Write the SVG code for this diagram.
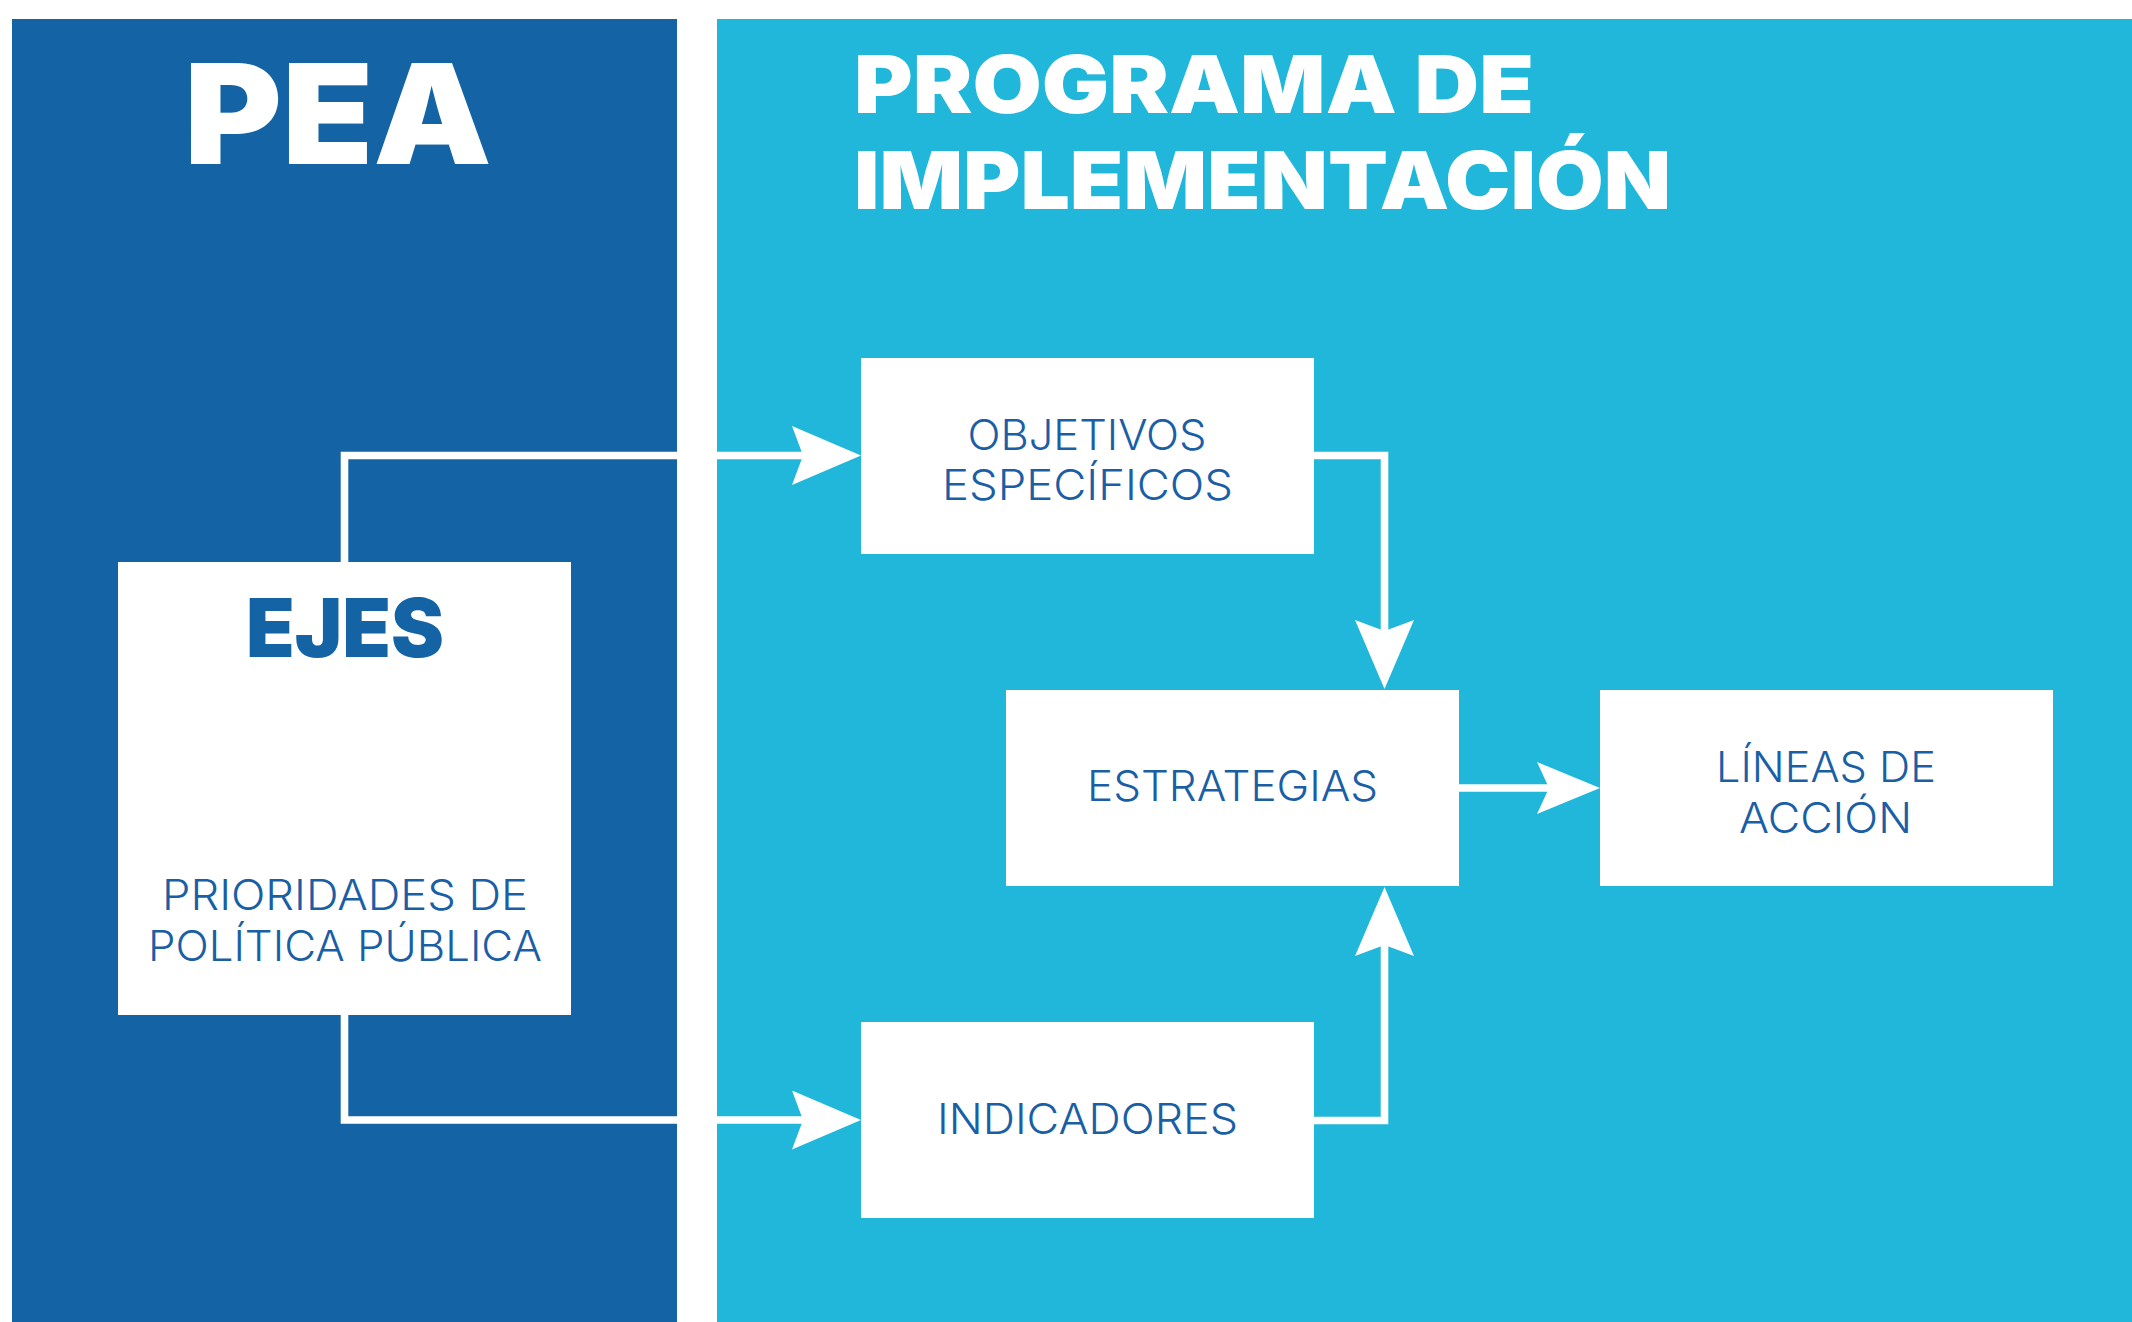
<svg xmlns="http://www.w3.org/2000/svg" width="2132" height="1322" viewBox="0 0 2132 1322">
  <style>
    .title { font-family: Inter, Roboto, "DejaVu Sans", sans-serif; font-weight: 900; fill: #ffffff; }
    .ejes { font-family: Inter, Roboto, "DejaVu Sans", sans-serif; font-weight: 900; fill: #1464A5; }
    .body { font-family: Inter, "Open Sans", "DejaVu Sans", sans-serif; font-weight: 300; font-size: 42px; fill: #1A5FA5; text-anchor: middle; }
    .node { fill: #ffffff; }
    .conn { fill: none; stroke: #ffffff; stroke-width: 7.6; stroke-linejoin: miter; stroke-linecap: butt; }
    .head { fill: #ffffff; }
  </style>
  <defs>
    <marker id="arrow" markerUnits="userSpaceOnUse" markerWidth="70" markerHeight="60" viewBox="0 0 70 60" refX="11" refY="29.5" orient="auto">
      <path class="head" d="M69,29.5 L0,0 L11,29.5 L0,59 Z"/>
    </marker>
    <marker id="arrowSmall" markerUnits="userSpaceOnUse" markerWidth="64" markerHeight="53" viewBox="0 0 64 53" refX="12" refY="26" orient="auto">
      <path class="head" d="M63,26 L0,0 L12,26 L0,52 Z"/>
    </marker>
  </defs>

  <rect width="2132" height="1322" fill="#ffffff"/>
  <g id="panel-pea">
    <rect x="12" y="19" width="665" height="1303" fill="#1464A5"/>
    <text class="title" x="184" y="164" font-size="139" textLength="308" lengthAdjust="spacingAndGlyphs">PEA</text>
  </g>
  <g id="panel-programa">
    <rect x="717" y="19" width="1415" height="1303" fill="#20B7DA"/>
    <text class="title" x="854" y="112.5" font-size="80" textLength="680" lengthAdjust="spacingAndGlyphs">PROGRAMA DE</text>
    <text class="title" x="854" y="209" font-size="80" textLength="817" lengthAdjust="spacingAndGlyphs">IMPLEMENTACIÓN</text>
  </g>

  <g id="connectors">
    <path class="conn" d="M344.5,562 L344.5,455.5 L803,455.5" marker-end="url(#arrow)"/>
    <path class="conn" d="M344.5,1015 L344.5,1120 L803,1120" marker-end="url(#arrow)"/>
    <path class="conn" d="M1314,455.5 L1384.5,455.5 L1384.5,631" marker-end="url(#arrow)"/>
    <path class="conn" d="M1314,1120.5 L1384.5,1120.5 L1384.5,945" marker-end="url(#arrow)"/>
    <path class="conn" d="M1459,788 L1549,788" marker-end="url(#arrowSmall)"/>
  </g>

  <g id="node-ejes">
    <rect class="node" x="118" y="562" width="453" height="453"/>
    <text class="ejes" x="246" y="657" font-size="81" textLength="198" lengthAdjust="spacingAndGlyphs">EJES</text>
    <text class="body" x="345" y="910" textLength="366" lengthAdjust="spacingAndGlyphs">PRIORIDADES DE</text>
    <text class="body" x="345" y="961" textLength="394" lengthAdjust="spacingAndGlyphs">POLÍTICA PÚBLICA</text>
  </g>
  <g id="node-objetivos">
    <rect class="node" x="861" y="358" width="453" height="196"/>
    <text class="body" x="1087" y="449.5" textLength="239" lengthAdjust="spacingAndGlyphs">OBJETIVOS</text>
    <text class="body" x="1087.5" y="500" textLength="291" lengthAdjust="spacingAndGlyphs">ESPECÍFICOS</text>
  </g>
  <g id="node-estrategias">
    <rect class="node" x="1006" y="690" width="453" height="196"/>
    <text class="body" x="1232.5" y="801" textLength="291" lengthAdjust="spacingAndGlyphs">ESTRATEGIAS</text>
  </g>
  <g id="node-lineas">
    <rect class="node" x="1600" y="690" width="453" height="196"/>
    <text class="body" x="1826" y="782" textLength="220" lengthAdjust="spacingAndGlyphs">LÍNEAS DE</text>
    <text class="body" x="1825.5" y="833" textLength="173" lengthAdjust="spacingAndGlyphs">ACCIÓN</text>
  </g>
  <g id="node-indicadores">
    <rect class="node" x="861" y="1022" width="453" height="196"/>
    <text class="body" x="1087.5" y="1134" textLength="301" lengthAdjust="spacingAndGlyphs">INDICADORES</text>
  </g>
</svg>
